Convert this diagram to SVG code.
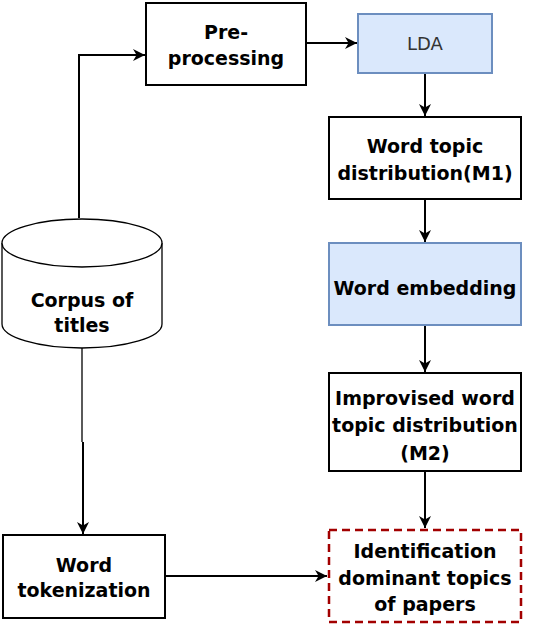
<svg xmlns="http://www.w3.org/2000/svg" width="534" height="624" viewBox="0 0 534 624">
<style>
.box{fill:#ffffff;stroke:#000000;stroke-width:2}
.blue{fill:#dae8fc;stroke:#6c8ebf;stroke-width:2}
.dash{fill:#ffffff;stroke:#a20000;stroke-width:2.5;stroke-dasharray:8 5}
.cyl{fill:#ffffff;stroke:#000000;stroke-width:1.3}
.t{font-family:"DejaVu Sans",sans-serif;font-size:19px;font-weight:bold;fill:#000000;text-anchor:middle}
.tl{font-family:"DejaVu Sans",sans-serif;font-size:18px;fill:#333333;text-anchor:middle}
.c{fill:none;stroke:#000000;stroke-width:2}
</style>
<defs>
<marker id="arr" viewBox="0 0 10 10" refX="10" refY="5" markerWidth="12" markerHeight="12" markerUnits="userSpaceOnUse" orient="auto">
<path d="M0,0 L10,5 L0,10 L3,5 Z" fill="#000000"/>
</marker>
</defs>
<rect width="534" height="624" fill="#ffffff"/>
<g id="connectors">
<path class="c" d="M79,218 L79,55 L145,55" marker-end="url(#arr)"/>
<path class="c" d="M307,43 L357,43" marker-end="url(#arr)"/>
<path class="c" d="M425,73 L425,116" marker-end="url(#arr)"/>
<path class="c" d="M425,199 L425,242" marker-end="url(#arr)"/>
<path class="c" d="M425,325 L425,372" marker-end="url(#arr)"/>
<path class="c" d="M425,471 L425,528" marker-end="url(#arr)"/>
<path class="c" style="stroke-width:1.3" d="M82,348 L82,442"/>
<path class="c" d="M83,442 L83,534" marker-end="url(#arr)"/>
<path class="c" d="M166,576 L327,576" marker-end="url(#arr)"/>
</g>
<g id="preprocessing">
<rect class="box" x="146" y="3" width="160" height="82"/>
<text class="t" x="226" y="39">Pre-</text>
<text class="t" x="226" y="65">processing</text>
</g>
<g id="lda">
<rect class="blue" x="358" y="14" width="134" height="59"/>
<text class="tl" x="425" y="50">LDA</text>
</g>
<g id="wordtopic">
<rect class="box" x="329" y="117" width="192" height="82"/>
<text class="t" x="425" y="153">Word topic</text>
<text class="t" x="425" y="180">distribution(M1)</text>
</g>
<g id="wordembedding">
<rect class="blue" x="329" y="243" width="192" height="82"/>
<text class="t" x="425" y="295">Word embedding</text>
</g>
<g id="improvised">
<rect class="box" x="329" y="373" width="192" height="98"/>
<text class="t" x="425" y="405">Improvised word</text>
<text class="t" x="425" y="432">topic distribution</text>
<text class="t" x="425" y="460">(M2)</text>
</g>
<g id="identification">
<rect class="dash" x="329" y="530" width="192" height="92"/>
<text class="t" x="425" y="558">Identification</text>
<text class="t" x="425" y="585">dominant topics</text>
<text class="t" x="425" y="611">of papers</text>
</g>
<g id="corpus">
<path class="cyl" d="M2,243 L2,324 A80,24 0 0 0 162,324 L162,243 A80,24 0 0 0 2,243 Z"/>
<path class="cyl" d="M2,243 A80,24 0 0 0 162,243"/>
<text class="t" x="82" y="307">Corpus of</text>
<text class="t" x="82" y="332">titles</text>
</g>
<g id="tokenization">
<rect class="box" x="3" y="535" width="162" height="83"/>
<text class="t" x="84" y="572">Word</text>
<text class="t" x="84" y="597">tokenization</text>
</g>
</svg>
